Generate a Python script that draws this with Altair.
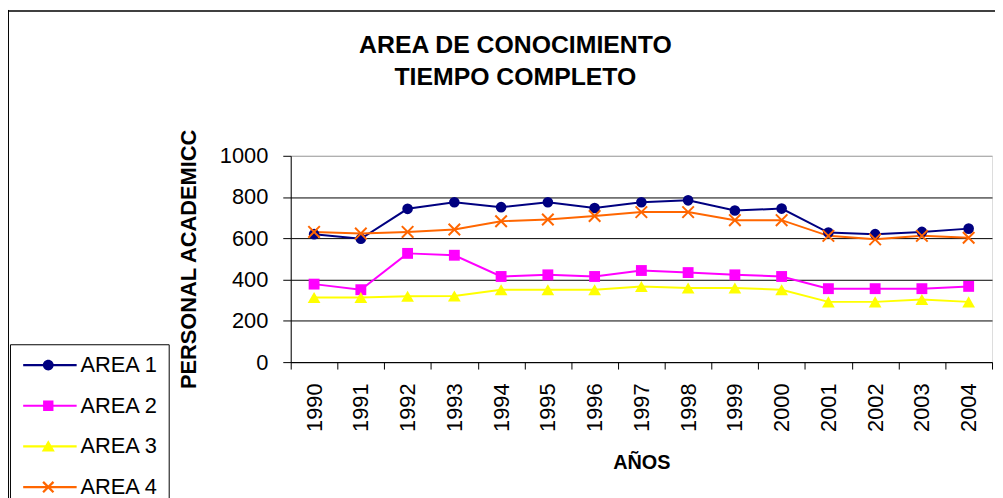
import altair as alt
import pandas as pd

years = [str(y) for y in range(1990, 2005)]
series = ["AREA 1", "AREA 2", "AREA 3", "AREA 4"]
area1 = [620, 598, 743, 775, 751, 775, 747, 775, 784, 735, 744, 628, 620, 631, 647]
area2 = [378, 351, 527, 518, 415, 423, 415, 444, 434, 423, 415, 356, 356, 356, 367]
area3 = [313, 313, 319, 320, 351, 351, 351, 367, 359, 359, 351, 292, 292, 303, 292]
area4 = [631, 623, 631, 643, 683, 691, 708, 727, 727, 688, 688, 612, 595, 612, 603]
colors = ["#000080", "#FF00FF", "#FFFF00", "#FF6600"]
y_ticks = [0, 200, 400, 600, 800, 1000]

rows = []
for name, vals in zip(series, [area1, area2, area3, area4]):
    for yr, v in zip(years, vals):
        rows.append({"anio": yr, "serie": name, "valor": v})
df = pd.DataFrame(rows)

FONT = "Liberation Sans, Arial"

# marker shapes for plot points
X_PATH = "M-1,-1L1,1M-1,1L1,-1"
mark_shapes = ["circle", "square", "triangle-up", X_PATH]
mark_sizes = [115, 120, 165, 135]


# legend symbols: a line with the marker in the middle (unit coordinates)
def f(v):
    return f"{v:.3f}"


L0, L1, T, M = -1.4, 8.4, 0.2, 3.2
line_part = f"M{f(L0)},{f(-T)}H{f(L1)}V{f(T)}H{f(L0)}Z"
circ = f"M{f(M-1)},0A1,1 0 1,1 {f(M+1)},0A1,1 0 1,1 {f(M-1)},0Z"
sq = f"M{f(M-0.95)},-0.95H{f(M+0.95)}V0.95H{f(M-0.95)}Z"
tri = f"M{f(M)},-1.15L{f(M+1.2)},0.95L{f(M-1.2)},0.95Z"
a, d = 1.1, 0.3
b1 = [(-a, -a + d), (-a + d, -a), (a, a - d), (a - d, a)]
b2 = [(-a + d, a), (-a, a - d), (a - d, -a), (a, -a + d)]


def poly(pts):
    return "M" + "L".join(f"{f(x + M)},{f(y)}" for x, y in pts) + "Z"


xs = poly(b1) + poly(b2)
legend_shapes = [line_part + circ, line_part + sq, line_part + tri, line_part + xs]

xenc = alt.X(
    "anio:O",
    bandPosition=0.5,
    scale=alt.Scale(type="band", paddingInner=0, paddingOuter=0, domain=years),
    axis=alt.Axis(
        title="AÑOS",
        titleFont=FONT,
        titleFontSize=20,
        titleFontWeight="bold",
        titleColor="black",
        titleY=107,
        titleBaseline="alphabetic",
        labelAngle=270,
        labelFont=FONT,
        labelFontSize=22,
        labelColor="black",
        labelPadding=14,
        tickBand="extent",
        tickSize=7,
        tickColor="black",
        domainColor="black",
        grid=False,
    ),
)
yenc = alt.Y(
    "valor:Q",
    scale=alt.Scale(domain=[0, 1000], nice=False),
    axis=alt.Axis(
        title="PERSONAL ACADEMICC",
        titleFont=FONT,
        titleFontSize=22,
        titleFontWeight="bold",
        titleColor="black",
        titleAngle=270,
        titleX=-103,
        titleY=104,
        titleAlign="center",
        titleBaseline="middle",
        values=y_ticks,
        format="d",
        labelFont=FONT,
        labelFontSize=22,
        labelColor="black",
        labelPadding=15,
        tickSize=8,
        tickColor="black",
        domainColor="black",
        grid=True,
        gridColor={"condition": {"test": "datum.value >= 1000", "value": "#a0a0a0"}, "value": "black"},
        gridWidth=1,
    ),
)
cscale = alt.Scale(domain=series, range=colors)

base = alt.Chart(df)
lines = base.mark_line(strokeWidth=2).encode(
    x=xenc, y=yenc, color=alt.Color("serie:N", scale=cscale, legend=None)
)

point_layers = []
for name, shp, sz in zip(series, mark_shapes, mark_sizes):
    filled = shp != X_PATH
    pl = base.transform_filter(alt.datum.serie == name).mark_point(
        shape=shp, filled=filled, size=sz, opacity=1, strokeWidth=2 if not filled else 0
    ).encode(x=xenc, y=yenc, color=alt.Color("serie:N", scale=cscale, legend=None))
    point_layers.append(pl)

leg = alt.Legend(
    title=None,
    orient="none",
    legendX=-283,
    legendY=190,
    labelFont=FONT,
    labelFontSize=22,
    labelColor="black",
    labelOffset=39,
    symbolSize=121,
    symbolStrokeWidth=0,
    symbolOpacity=1,
    rowPadding=19,
    padding=10,
    strokeColor="black",
    fillColor="white",
    cornerRadius=0,
)
legend_layer = base.mark_point(filled=True, opacity=0).encode(
    x=xenc,
    y=yenc,
    color=alt.Color("serie:N", scale=cscale, legend=leg),
    shape=alt.Shape("serie:N", scale=alt.Scale(domain=series, range=legend_shapes), legend=leg),
)

frame = alt.Chart(alt.Data(values=[{"k": 1}]))
top_border = frame.mark_rule(color="#404040", strokeWidth=2).encode(
    x=alt.value(-285), x2=alt.value(712), y=alt.value(-146)
)
left_border = frame.mark_rule(color="black", strokeWidth=1).encode(
    x=alt.value(-284.5), y=alt.value(-147), y2=alt.value(345)
)

chart = (
    alt.layer(lines, *point_layers, legend_layer, top_border, left_border)
    .resolve_legend(color="independent", shape="independent")
    .properties(
        width=707,
        height=208,
        autosize=alt.AutoSizeParams(type="none"),
        padding={"left": 285, "top": 147, "right": 3, "bottom": 135},
        title=alt.Title(
            text=["AREA DE CONOCIMIENTO", "TIEMPO COMPLETO"],
            font=FONT,
            fontSize=25,
            fontWeight="bold",
            color="black",
            anchor="middle",
            dx=-127,
            dy=91,
            lineHeight=32,
            offset=10,
        ),
    )
    .configure_view(stroke="#a0a0a0", strokeWidth=2)
    .configure(background="white")
)

chart.save("out.html", embed_options={"renderer": "svg", "actions": False})
